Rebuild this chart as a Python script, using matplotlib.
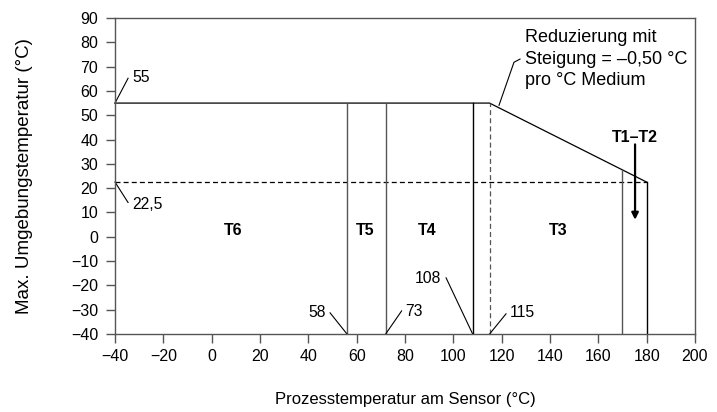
import matplotlib
matplotlib.use("Agg")
import matplotlib.pyplot as plt

plt.rcParams['font.family'] = ['Liberation Sans', 'DejaVu Sans']

# Data
x_limits = [-40, 200]
y_limits = [-40, 90]
x_ticks = [-40, -20, 0, 20, 40, 60, 80, 100, 120, 140, 160, 180, 200]
y_ticks = [-40, -30, -20, -10, 0, 10, 20, 30, 40, 50, 60, 70, 80, 90]
x_tick_labels = ['\u221240', '\u221220', '0', '20', '40', '60', '80', '100', '120', '140', '160', '180', '200']
y_tick_labels = ['\u221240', '\u221230', '\u221220', '\u221210', '0', '10', '20', '30', '40', '50', '60', '70', '80', '90']

# limit curve: process temp -> max ambient temp
curve_x = [-40, 115, 180]
curve_y = [55, 55, 22.5]
# dashed lines
dash_h_x = [-40, 180]
dash_h_y = [22.5, 22.5]
dash_v_x = 115
# class boundaries (x position, top y)
bound_x = [56, 72, 108, 170, 180]
bound_top = [55, 55, 55, 27.5, 22.5]
bound_colors = ['#555555', '#555555', 'black', '#555555', 'black']

classes = ['T6', 'T5', 'T4', 'T3']
class_x = [8.7, 63.4, 89, 143.2]
class_y = 2.5

fig = plt.figure(figsize=(7.17, 4.12), dpi=100)
ax = fig.add_axes([0.1604, 0.1893, 0.8089, 0.767])
ax.set_xlim(*x_limits)
ax.set_ylim(*y_limits)
ax.set_xticks(x_ticks)
ax.set_xticklabels(x_tick_labels)
ax.set_yticks(y_ticks)
ax.set_yticklabels(y_tick_labels)
for s in ax.spines.values():
    s.set_color('#555555')
    s.set_linewidth(1.0)
ax.tick_params(direction='out', length=6.5, width=1.0, color='#555555',
               labelsize=11.5, pad=4.5)
ax.tick_params(axis='y', pad=5.5)

ax.plot(curve_x, curve_y, color='black', lw=0.9, clip_on=False)
ax.plot(dash_h_x, dash_h_y, color='black', lw=0.9, ls=(0, (4, 2.5)))
ax.plot([dash_v_x, dash_v_x], [y_limits[0], 55], color='#555555', lw=0.9, ls=(0, (4, 2.5)))
for bx, bt, bc in zip(bound_x, bound_top, bound_colors):
    ax.plot([bx, bx], [y_limits[0], bt], color=bc, lw=1.0)

for name, cx in zip(classes, class_x):
    ax.text(cx, class_y, name, ha='center', va='center', fontsize=11.5, fontweight='bold')

# T1-T2 arrow
ax.annotate('', xy=(175.2, 7.0), xytext=(175.2, 38.0),
            arrowprops=dict(arrowstyle='-|>', color='black', lw=1.6,
                            mutation_scale=10, shrinkA=0, shrinkB=0))
ax.text(175.2, 41.0, 'T1\u2013T2', ha='center', va='center', fontsize=11.5, fontweight='bold')

# callouts
lab_fs = 11.3
def callout(p0, p1, text, tx, ty, ha):
    ax.plot([p0[0], p1[0]], [p0[1], p1[1]], color='black', lw=0.8, clip_on=False)
    ax.text(tx, ty, text, ha=ha, va='center', fontsize=lab_fs)

callout((-40, 55), (-34.6, 65.2), '55', -32.8, 65.4, 'left')
callout((-40, 22.5), (-34.6, 14.1), '22,5', -32.8, 13.2, 'left')
callout((56, -40), (49, -31.3), '58', 47.0, -31.3, 'right')
callout((72, -40), (78.6, -30.5), '73', 80.2, -30.8, 'left')
callout((108, -40), (97, -16.9), '108', 95.0, -17.3, 'right')
callout((115, -40), (121.8, -31.7), '115', 123.3, -31.3, 'left')

ax.plot([118.9, 125.1, 127.6], [54.1, 71.8, 73.1], color='black', lw=0.8)
ax.text(129.6, 73.1, 'Reduzierung mit\nSteigung = \u20130,50 \u00b0C\npro \u00b0C Medium',
        ha='left', va='center', fontsize=13, linespacing=1.32)

ax.set_xlabel('Prozesstemperatur am Sensor (\u00b0C)', fontsize=12)
ax.set_ylabel('Max. Umgebungstemperatur (\u00b0C)', fontsize=13.5)
ax.xaxis.set_label_coords(0.5, -0.184)
ax.yaxis.set_label_coords(-0.141, 0.5)

fig.savefig('out.png', dpi=100)
